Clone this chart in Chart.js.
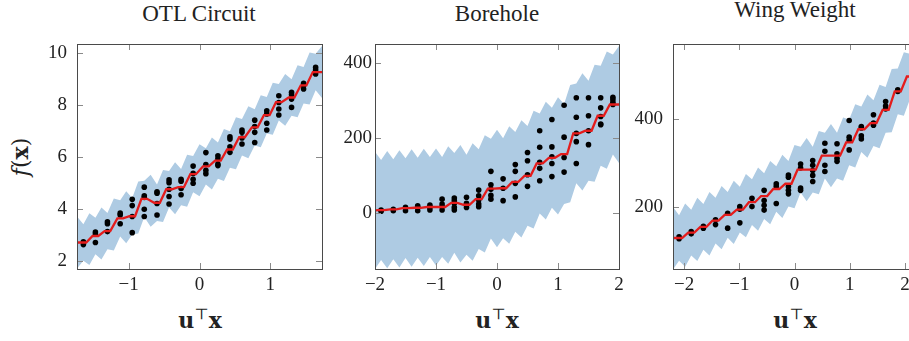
<!DOCTYPE html>
<html>
<head>
<meta charset="utf-8">
<title>GP ridge fits</title>
<script src="https://cdn.jsdelivr.net/npm/chart.js@4.4.1/dist/chart.umd.min.js"></script>
<style>
  html, body { margin: 0; padding: 0; background: #fff; overflow: hidden; }
  #wrap { position: relative; width: 909px; height: 341px; overflow: hidden; }
  #wrap canvas { position: absolute; top: 0; }
  .ttl { position: absolute; font: 23px/1 "Liberation Serif", serif; color: #222; white-space: nowrap; transform: translateX(-50%); }
  .xl { position: absolute; top: 309px; font: bold 22px/1 "DejaVu Serif", serif; color: #222; white-space: nowrap; transform: translateX(-50%); }
  .xl sup { font-weight: normal; font-size: 0.7em; line-height: 0; vertical-align: 0.6em; }
  .yl { position: absolute; left: 20px; top: 157px; font: 22px/1 "DejaVu Serif", serif; color: #222; white-space: nowrap; transform: translate(-50%, -50%) rotate(-90deg); }
</style>
</head>
<body>
<div id="wrap">
  <div class="ttl" style="left:199px; top:2px">OTL Circuit</div>
  <div class="ttl" style="left:497px; top:2px">Borehole</div>
  <div class="ttl" style="left:795px; top:-2px">Wing Weight</div>
  <div class="yl"><i>f</i>(<b>x</b>)</div>
  <div class="xl" style="left:200px">u<sup>⊤</sup>x</div>
  <div class="xl" style="left:497px">u<sup>⊤</sup>x</div>
  <div class="xl" style="left:795px">u<sup>⊤</sup>x</div>
  <canvas id="otlChart" width="330" height="341" style="left:0px"></canvas>
  <canvas id="boreholeChart" width="300" height="341" style="left:330px"></canvas>
  <canvas id="wingChart" width="290" height="341" style="left:630px"></canvas>
</div>
<script>
"use strict";

// ---------------- OTL CIRCUIT ----------------
const otlX = [-1.64, -1.47, -1.30, -1.12, -0.95, -0.78, -0.60, -0.43, -0.26, -0.09,
  0.09, 0.26, 0.43, 0.60, 0.78, 0.95, 1.12, 1.30, 1.47, 1.64];
const otlPts = [
  [2.75, 2.64], [3.12, 3.05, 2.72], [3.52, 3.44, 3.14], [3.85, 3.78, 3.44],
  [4.38, 4.14, 3.72, 3.1], [4.85, 4.52, 4.45, 4.0, 3.72], [4.67, 4.62, 4.22, 3.78],
  [5.13, 5.02, 4.77, 4.49, 4.2], [5.15, 5.08, 4.8, 4.56], [5.66, 5.38, 5.15, 5.0],
  [6.18, 5.72, 5.5, 5.37], [6.06, 5.94, 5.74, 5.68], [6.79, 6.7, 6.4, 6.19],
  [7.05, 6.96, 6.74, 6.51], [7.43, 7.18, 6.96, 6.57], [7.79, 7.67, 7.31, 7.05],
  [8.37, 8.11, 7.86, 7.63], [8.5, 8.41, 8.24, 7.92], [8.85, 8.76, 8.63], [9.46, 9.36, 9.21]
];
const otlMean = [2.72, 2.97, 3.16, 3.65, 3.73, 4.4, 4.25, 4.77, 4.85, 5.35,
  5.65, 5.87, 6.3, 6.77, 7.15, 7.62, 8.12, 8.3, 8.77, 9.28];
const otlMeanEnds = [2.72, 9.28];
const otlBandX = [-1.73, -1.64, -1.555, -1.47, -1.385, -1.30, -1.21, -1.12, -1.035, -0.95, -0.865,
  -0.78, -0.69, -0.60, -0.515, -0.43, -0.345, -0.26, -0.175, -0.09, 0, 0.09, 0.175, 0.26, 0.345,
  0.43, 0.515, 0.60, 0.69, 0.78, 0.865, 0.95, 1.035, 1.12, 1.21, 1.30, 1.385, 1.47, 1.555, 1.64, 1.73];
const otlBandHi = [3.72, 3.42, 3.85, 3.67, 4.07, 3.86, 4.41, 4.35, 4.69, 4.43, 5.07, 5.1, 5.33, 4.95,
  5.51, 5.47, 5.81, 5.55, 6.1, 6.05, 6.5, 6.35, 6.76, 6.57, 7.09, 7.0, 7.54, 7.47, 7.96, 7.85, 8.39,
  8.32, 8.87, 8.82, 9.21, 9.0, 9.54, 9.47, 10.03, 9.98, 10.28];
const otlBandLo = [1.72, 2.02, 1.85, 2.27, 2.07, 2.46, 2.41, 2.95, 2.69, 3.03, 3.07, 3.7, 3.33, 3.55,
  3.51, 4.07, 3.81, 4.15, 4.1, 4.65, 4.5, 4.95, 4.76, 5.17, 5.09, 5.6, 5.54, 6.07, 5.96, 6.45, 6.39,
  6.92, 6.87, 7.42, 7.21, 7.6, 7.54, 8.07, 8.03, 8.58, 8.28];
const otlXTicks = [-1, 0, 1];
const otlYTicks = [2, 4, 6, 8, 10];

// ---------------- BOREHOLE ----------------
const bhX = [-1.9, -1.7, -1.5, -1.3, -1.1, -0.9, -0.7, -0.5, -0.3, -0.1,
  0.1, 0.3, 0.5, 0.7, 0.9, 1.1, 1.3, 1.5, 1.7, 1.9];
const bhPts = [
  [9, 6], [11, 7], [16, 7], [20, 16, 7], [22, 16, 9], [38, 25, 18, 9], [41, 34, 27, 16, 9],
  [43, 27, 16], [62, 47, 36, 25, 18], [112, 76, 64, 48, 38], [92, 67, 34], [130, 112, 80, 44],
  [162, 140, 103, 72], [220, 176, 136, 120, 87], [250, 177, 151, 133, 98], [288, 203, 149, 110],
  [308, 256, 213, 191, 133], [308, 260, 220, 183], [308, 281, 258, 238, 236], [309, 303, 296, 290]
];
const bhMean = [9, 10.7, 14, 15, 17, 17, 28, 23, 38, 66, 67, 84, 100, 133, 148, 158, 213, 220, 260, 290];
const bhMeanEnds = [8, 290];
const bhBandX = [-2, -1.9, -1.8, -1.7, -1.6, -1.5, -1.4, -1.3, -1.2, -1.1, -1.0, -0.9, -0.8, -0.7,
  -0.6, -0.5, -0.4, -0.3, -0.2, -0.1, 0, 0.1, 0.2, 0.3, 0.4, 0.5, 0.6, 0.7, 0.8, 0.9, 1.0, 1.1, 1.2,
  1.3, 1.4, 1.5, 1.6, 1.7, 1.8, 1.9, 2];
const bhBandHi = [164, 142, 166, 144, 168, 147, 171, 148, 172, 150, 173, 150, 179, 161, 182, 156,
  187, 171, 208, 199, 223, 200, 232, 217, 248, 233, 273, 266, 297, 281, 309, 291, 342, 346, 373,
  353, 396, 393, 431, 423, 446];
const bhBandLo = [-148, -124, -146, -122, -144, -119, -142, -118, -140, -116, -139, -116, -134,
  -105, -131, -110, -126, -95, -104, -67, -90, -66, -81, -49, -64, -33, -40, 0, -16, 15, -3, 25,
  30, 80, 61, 87, 84, 127, 119, 157, 134];
const bhXTicks = [-2, -1, 0, 1, 2];
const bhYTicks = [0, 200, 400];

// ---------------- WING WEIGHT ----------------
const wingX = [-2.09, -1.87, -1.65, -1.43, -1.21, -0.99, -0.77, -0.55, -0.33, -0.11,
  0.11, 0.33, 0.55, 0.77, 0.99, 1.21, 1.43, 1.65, 1.87, 2.09];
const wingPts = [
  [132, 128], [144, 139], [156, 152], [171, 160], [186, 152], [201, 195, 164], [220, 201],
  [238, 215, 204, 193], [253, 247, 208], [273, 268, 247, 238, 230], [298, 289, 243, 238],
  [306, 295, 283, 272, 258], [345, 327, 295, 281], [344, 321, 311, 304], [397, 359, 352, 330],
  [383, 380, 362, 355], [410, 391, 386], [440, 430, 423], [467, 463], []
];
const wingMean = [129.5, 142, 155, 169, 182, 194, 211, 225, 241, 253, 285, 285, 317, 317, 347,
  377, 391, 421, 463, 497];
const wingMeanEnds = [129.5, 520];
const wingBandX = [-2.2, -2.09, -1.98, -1.87, -1.76, -1.65, -1.54, -1.43, -1.32, -1.21, -1.10,
  -0.99, -0.88, -0.77, -0.66, -0.55, -0.44, -0.33, -0.22, -0.11, 0, 0.11, 0.22, 0.33, 0.44, 0.55,
  0.66, 0.77, 0.88, 0.99, 1.10, 1.21, 1.32, 1.43, 1.54, 1.65, 1.76, 1.87, 1.98, 2.09, 2.2];
const wingBandHi = [200, 181.5, 208, 194, 221, 207, 234, 221, 248, 234, 260, 246, 275, 263, 290,
  277, 305, 293, 319, 305, 341, 337, 357, 337, 373, 369, 389, 369, 404, 399, 434, 429, 456, 443,
  478, 473, 514, 515, 552, 549, 580];
const wingBandLo = [58, 77.5, 64, 90, 77, 103, 90, 117, 104, 130, 116, 142, 131, 159, 146, 173,
  161, 189, 175, 201, 197, 233, 213, 233, 229, 265, 245, 265, 260, 295, 290, 325, 312, 339, 334,
  369, 370, 411, 408, 445, 440];
const wingXTicks = [-2, -1, 0, 1, 2];
const wingYTicks = [200, 400];

// ---------------- STYLE ----------------
const BAND = "#aecbe3";
const RED = "#e41c1c";
const INK = "#222";
const TICK_FONT = { family: "'Liberation Serif', 'Times New Roman', serif", size: 19 };

const fmtTick = (v) => (v < 0 ? "\u2212" + Math.abs(v) : String(v));

// ---------------- HELPERS ----------------
const toXY = (xs, ys) => xs.map((x, i) => ({ x, y: ys[i] }));

function meanLine(xs, levels, ends, flat, x0, x1) {
  const out = [{ x: x0, y: ends[0] }];
  xs.forEach((x, i) => {
    out.push({ x: x - flat, y: levels[i] }, { x: x + flat, y: levels[i] });
  });
  out.push({ x: x1, y: ends[1] });
  return out;
}

function dots(xs, groups) {
  const out = [];
  groups.forEach((g, i) => g.forEach((y) => out.push({ x: xs[i], y })));
  return out;
}

// inward ticks on all four sides + box frame (pgfplots look)
const framePlugin = {
  id: "frame",
  afterDatasetsDraw(chart) {
    const { ctx, chartArea: a, scales } = chart;
    const L = 6;
    ctx.save();
    ctx.lineWidth = 1;
    ctx.strokeStyle = "#8a8a8a";
    ctx.beginPath();
    scales.x.ticks.forEach((t) => {
      const px = Math.round(scales.x.getPixelForValue(t.value)) + 0.5;
      ctx.moveTo(px, a.top); ctx.lineTo(px, a.top + L);
      ctx.moveTo(px, a.bottom); ctx.lineTo(px, a.bottom - L);
    });
    scales.y.ticks.forEach((t) => {
      const py = Math.round(scales.y.getPixelForValue(t.value)) + 0.5;
      ctx.moveTo(a.left, py); ctx.lineTo(a.left + L, py);
      ctx.moveTo(a.right, py); ctx.lineTo(a.right - L, py);
    });
    ctx.stroke();
    ctx.strokeStyle = "#4a4a4a";
    ctx.strokeRect(Math.round(a.left) + 0.5, Math.round(a.top) + 0.5,
      Math.round(a.right - a.left), Math.round(a.bottom - a.top));
    ctx.restore();
  },
};

// ---------------- PANEL ----------------
function makePanel(id, p) {
  const ctx = document.getElementById(id).getContext("2d");
  return new Chart(ctx, {
    type: "scatter",
    data: {
      datasets: [
        {
          data: toXY(p.bandX, p.bandLo),
          showLine: true, pointRadius: 0, borderWidth: 1,
          borderColor: "rgba(0,0,0,0)", tension: 0, order: 3,
        },
        {
          data: toXY(p.bandX, p.bandHi),
          showLine: true, pointRadius: 0, borderWidth: 1,
          borderColor: "rgba(0,0,0,0)", backgroundColor: BAND,
          fill: "-1", tension: 0, order: 2,
        },
        {
          data: dots(p.xs, p.pts),
          pointRadius: 2.8, pointBackgroundColor: "#000",
          pointBorderWidth: 0, order: 1,
        },
        {
          data: meanLine(p.xs, p.mean, p.ends, p.flat, p.xMin, p.xMax),
          showLine: true, pointRadius: 0, borderWidth: 2.3,
          borderColor: RED, tension: 0, order: 0,
        },
      ],
    },
    options: {
      responsive: false,
      animation: false,
      events: [],
      layout: { padding: { top: 44, right: p.padRight, bottom: 0, left: 0 } },
      plugins: { legend: { display: false }, tooltip: { enabled: false } },
      scales: {
        x: {
          type: "linear", min: p.xMin, max: p.xMax,
          grid: { display: false, drawTicks: false }, border: { display: false },
          ticks: { padding: 5, color: INK, font: TICK_FONT, maxRotation: 0, callback: fmtTick },
          afterBuildTicks: (s) => { s.ticks = p.xTicks.map((v) => ({ value: v })); },
          afterFit: (s) => { s.height = 72; },
        },
        y: {
          type: "linear", min: p.yMin, max: p.yMax,
          grid: { display: false, drawTicks: false }, border: { display: false },
          ticks: { padding: p.yPad, color: INK, font: TICK_FONT, callback: fmtTick },
          afterBuildTicks: (s) => { s.ticks = p.yTicks.map((v) => ({ value: v })); },
          afterFit: (s) => { s.width = p.yWidth; },
        },
      },
    },
    plugins: [framePlugin],
  });
}

// ---------------- INIT ----------------
makePanel("otlChart", {
  xs: otlX, pts: otlPts, mean: otlMean, ends: otlMeanEnds, flat: 0.04,
  bandX: otlBandX, bandHi: otlBandHi, bandLo: otlBandLo,
  xTicks: otlXTicks, yTicks: otlYTicks,
  xMin: -1.73, xMax: 1.73, yMin: 1.7, yMax: 10.36,
  yWidth: 77, yPad: 10, padRight: 8,
});

makePanel("boreholeChart", {
  xs: bhX, pts: bhPts, mean: bhMean, ends: bhMeanEnds, flat: 0.05,
  bandX: bhBandX, bandHi: bhBandHi, bandLo: bhBandLo,
  xTicks: bhXTicks, yTicks: bhYTicks,
  xMin: -2, xMax: 2, yMin: -148, yMax: 451,
  yWidth: 45, yPad: 3, padRight: 11,
});

makePanel("wingChart", {
  xs: wingX, pts: wingPts, mean: wingMean, ends: wingMeanEnds, flat: 0.055,
  bandX: wingBandX, bandHi: wingBandHi, bandLo: wingBandLo,
  xTicks: wingXTicks, yTicks: wingYTicks,
  xMin: -2.2, xMax: 2.2, yMin: 59, yMax: 571,
  yWidth: 43, yPad: 10, padRight: 2,
});
</script>
</body>
</html>
